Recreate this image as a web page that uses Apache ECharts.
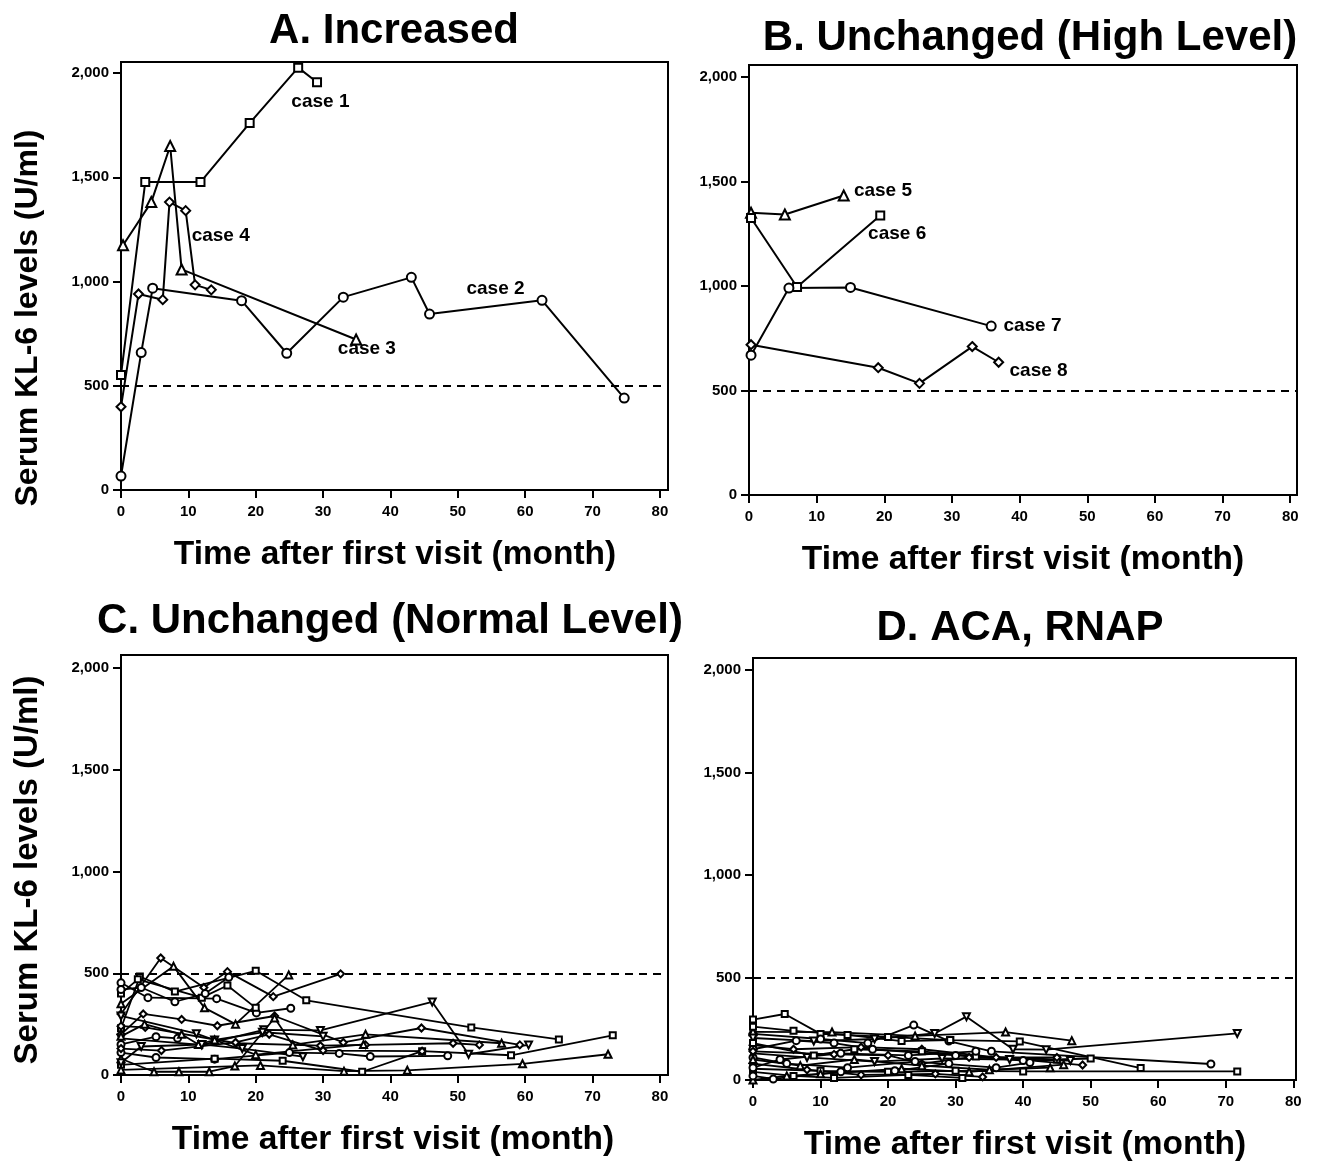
<!DOCTYPE html>
<html>
<head>
<meta charset="utf-8">
<title>Serum KL-6 levels over time</title>
<script src="https://cdn.jsdelivr.net/npm/echarts@6/dist/echarts.min.js"></script>
<style>
  html, body { margin: 0; padding: 0; background: #fff; }
  #chart { width: 1318px; height: 1166px; }
</style>
</head>
<body>
<div id="chart"></div>
<script>
// Serum KL-6 levels, four panels (A-D)

// --- data ---
var xTicks = [0, 10, 20, 30, 40, 50, 60, 70, 80];
var yTicks = [0, 500, 1000, 1500, 2000];
var cutoff = 500;

// A. Increased  [month, U/ml]
var case1 = [[0, 552], [3.6, 1477], [11.8, 1477], [19.1, 1760], [26.3, 2026], [29.1, 1956]];
var case2 = [[0, 67], [3.0, 659], [4.7, 968], [17.9, 908], [24.6, 656], [33.0, 925], [43.1, 1020], [45.8, 844], [62.5, 910], [74.7, 441]];
var case3 = [[0.3, 1174], [4.5, 1381], [7.3, 1650], [9.0, 1058], [34.9, 722]];
var case4 = [[0, 399], [2.6, 940], [6.2, 913], [7.2, 1381], [9.6, 1340], [11.0, 984], [13.4, 960]];

// B. Unchanged (High Level)
var case5 = [[0.3, 1350], [5.3, 1342], [14.0, 1433]];
var case6 = [[0.3, 1325], [7.1, 995], [19.4, 1337]];
var case7 = [[0.3, 669], [5.9, 990], [15.0, 993], [35.8, 808]];
var case8 = [[0.3, 719], [19.1, 609], [25.2, 534], [33.0, 710], [36.9, 635]];

// case label anchors [month, U/ml, text]
var labelsA = [[29.6, 1860, 'case 1'], [55.6, 966, 'case 2'], [36.5, 678, 'case 3'], [14.8, 1221, 'case 4']];
var labelsB = [[19.8, 1455, 'case 5'], [21.9, 1250, 'case 6'], [41.9, 808, 'case 7'], [42.8, 593, 'case 8']];

// C. Unchanged (Normal Level)
var normalCases = [
  [[0, 300], [5.9, 575], [12.3, 430], [15.8, 508], [22.6, 385], [32.6, 497]],
  [[0, 350], [7.8, 534], [12.4, 330], [17, 250], [24.9, 492]],
  [[0, 230], [2.8, 484], [8, 410], [20, 512], [27.5, 367], [52, 234], [65, 175]],
  [[0, 453], [4, 380], [14.2, 375], [20.1, 305], [25.2, 328]],
  [[0, 180], [12, 148], [21.2, 222], [29.6, 219], [46.2, 359], [51.6, 102], [60.5, 148]],
  [[0, 200], [3.3, 300], [9, 273], [14.3, 242], [22.8, 290], [33, 160], [44.6, 231], [59.2, 148]],
  [[0, 80], [4.9, 16], [8.6, 16], [13.1, 16], [16.9, 44], [22.8, 280], [25.5, 148], [36.3, 200], [56.5, 156]],
  [[0, 150], [5.2, 188], [8.4, 180]],
  [[0, 110], [5.2, 86], [13.9, 78], [25, 110], [32.4, 106], [37, 91], [48.5, 94]],
  [[0, 50], [13.9, 80], [24, 70], [35.8, 16], [44.7, 117], [57.9, 97], [73, 195]],
  [[0, 25], [20.7, 47], [33.1, 19], [42.5, 23], [59.6, 55], [72.3, 102]],
  [[0, 240], [3.6, 234], [17.1, 156], [29.6, 144], [36.3, 148], [49.3, 156], [53.2, 148]],
  [[0, 290], [11.2, 203], [13.9, 172], [21, 210], [30, 190]],
  [[0, 400], [2.5, 470], [12, 380], [15.8, 440], [20, 330]],
  [[0, 130], [6, 120], [17, 160], [22, 200], [30, 120], [44.7, 117]],
  [[0, 420], [3, 430], [8, 360], [12.5, 400], [16, 480]],
  [[0, 190], [3.5, 250], [9, 200], [11.5, 150], [13.9, 172], [20, 100], [36, 150]],
  [[0, 60], [3, 140], [12, 150], [18, 130], [27, 90]]
];
var normalMarks = ['diamond', 'triangle', 'square', 'circle', 'down', 'diamond', 'triangle', 'circle', 'circle',
  'square', 'triangle', 'diamond', 'down', 'square', 'diamond', 'circle', 'triangle', 'down'];

// D. ACA, RNAP
var acaCases = [
  [[0, 295], [4.7, 322], [10, 225], [20, 210], [29.2, 195], [39.5, 188], [57.4, 58]],
  [[0, 225], [10, 200], [17, 180], [23.8, 268], [29, 190], [35.3, 140], [67.8, 78]],
  [[0, 235], [11.7, 234], [24, 215], [37.4, 234], [47.2, 192]],
  [[0, 205], [9, 190], [18, 200], [26.9, 227], [31.6, 309], [38.5, 150], [43.4, 148], [71.7, 227]],
  [[0, 170], [6, 150], [16, 160], [25, 150], [36, 110], [48.8, 73]],
  [[0, 55], [10, 45], [20, 40], [30, 45], [40, 42], [71.7, 42]],
  [[0, 150], [6.4, 192], [12, 180], [17.7, 150], [30, 120], [40, 95]],
  [[0, 180], [9, 120], [15, 150], [25, 140], [33, 115], [45, 100], [50, 105]],
  [[0, 0], [5, 20], [10, 30], [22, 55], [32, 40], [46, 75]],
  [[0, 110], [5, 80], [14, 60], [24, 90], [36, 60], [41, 85]],
  [[0, 80], [8, 50], [16, 25], [27, 30], [34, 15]],
  [[0, 130], [8, 110], [18, 90], [28, 105], [38, 100], [47, 95]],
  [[0, 40], [6, 20], [12, 10], [23, 25], [31, 10]],
  [[0, 20], [3, 5], [13, 40], [21, 45], [29, 80]],
  [[0, 140], [12, 125], [20, 120], [25, 80], [32, 110], [45, 110]],
  [[0, 100], [7, 70], [15, 100], [25, 70], [35, 50], [44, 60]],
  [[0, 260], [6, 240], [14, 220], [22, 190], [29.2, 195]],
  [[0, 60], [4, 100], [13, 130], [23, 120], [33, 140]]
];
var acaMarks = ['square', 'circle', 'triangle', 'down', 'diamond', 'square', 'circle', 'square', 'triangle',
  'circle', 'diamond', 'down', 'square', 'circle', 'diamond', 'triangle', 'square', 'circle'];

(function () {
  'use strict';

  var FONT = '"Liberation Sans", Arial, Helvetica, sans-serif';

  var chart = echarts.init(document.getElementById('chart'));

  // panel frames (pixels)
  var grids = [
    { left: 121, top: 62, width: 547, height: 428, xMax: 81.2, yMax: 2053 },
    { left: 749, top: 65, width: 548, height: 430, xMax: 81, yMax: 2057 },
    { left: 121, top: 655, width: 547, height: 420, xMax: 81.2, yMax: 2064 },
    { left: 753, top: 658, width: 543, height: 422, xMax: 80.4, yMax: 2059 }
  ];

  var symbolOf = {
    circle: 'emptyCircle',
    square: 'emptyRect',
    triangle: 'emptyTriangle',
    diamond: 'emptyDiamond',
    down: 'emptyTriangle'
  };

  function caseSeries(idx, data, mark, big) {
    var size = big ? { circle: 9, square: 8, triangle: 10, diamond: 9, down: 10 }
                   : { circle: 7, square: 6, triangle: 7, diamond: 7, down: 7 };
    return {
      type: 'line',
      xAxisIndex: idx,
      yAxisIndex: idx,
      data: data,
      symbol: symbolOf[mark],
      symbolRotate: mark === 'down' ? 180 : 0,
      symbolSize: size[mark],
      showAllSymbol: true,
      clip: false,
      lineStyle: { color: '#000', width: big ? 2 : 1.8 },
      itemStyle: { color: '#000', borderWidth: big ? 1.8 : 1.6 },
      emphasis: { disabled: true },
      z: 3
    };
  }

  function cutoffSeries(idx) {
    return {
      type: 'line',
      xAxisIndex: idx,
      yAxisIndex: idx,
      data: [],
      markLine: {
        silent: true,
        symbol: 'none',
        label: { show: false },
        lineStyle: { color: '#000', type: [8, 6], width: 1.8 },
        data: [{ yAxis: cutoff }]
      }
    };
  }

  function labelSeries(idx, rows) {
    return {
      type: 'scatter',
      xAxisIndex: idx,
      yAxisIndex: idx,
      data: rows,
      symbolSize: 1,
      itemStyle: { color: 'rgba(0,0,0,0)', opacity: 1 },
      label: {
        show: true,
        position: 'inside',
        formatter: function (p) { return p.data[2]; },
        color: '#000',
        fontFamily: FONT,
        fontWeight: 'bold',
        fontSize: 19
      },
      silent: true,
      z: 5
    };
  }

  var xAxes = grids.map(function (g, i) {
    return {
      type: 'value',
      gridIndex: i,
      min: 0,
      max: g.xMax,
      splitLine: { show: false },
      axisLine: { show: true, onZero: false, lineStyle: { color: '#000', width: 2 } },
      axisTick: { show: true, customValues: xTicks, length: 8, lineStyle: { color: '#000', width: 2 } },
      axisLabel: {
        customValues: xTicks,
        margin: 14,
        color: '#000',
        fontFamily: FONT,
        fontWeight: 'bold',
        fontSize: 15
      }
    };
  });

  var yAxes = grids.map(function (g, i) {
    return {
      type: 'value',
      gridIndex: i,
      min: 0,
      max: g.yMax,
      splitLine: { show: false },
      axisLine: { show: true, onZero: false, lineStyle: { color: '#000', width: 2 } },
      axisTick: { show: true, customValues: yTicks, length: 8, lineStyle: { color: '#000', width: 2 } },
      axisLabel: {
        customValues: yTicks,
        margin: 12,
        color: '#000',
        fontFamily: FONT,
        fontWeight: 'bold',
        fontSize: 15,
        formatter: function (v) { return v.toLocaleString('en-US'); }
      }
    };
  });

  var series = [];
  series.push(caseSeries(0, case1, 'square', true));
  series.push(caseSeries(0, case2, 'circle', true));
  series.push(caseSeries(0, case3, 'triangle', true));
  series.push(caseSeries(0, case4, 'diamond', true));
  series.push(caseSeries(1, case5, 'triangle', true));
  series.push(caseSeries(1, case6, 'square', true));
  series.push(caseSeries(1, case7, 'circle', true));
  series.push(caseSeries(1, case8, 'diamond', true));
  normalCases.forEach(function (d, k) {
    series.push(caseSeries(2, d, normalMarks[k], false));
  });
  acaCases.forEach(function (d, k) {
    series.push(caseSeries(3, d, acaMarks[k], false));
  });
  for (var i = 0; i < 4; i++) series.push(cutoffSeries(i));
  series.push(labelSeries(0, labelsA));
  series.push(labelSeries(1, labelsB));

  function text(x, y, str, size, rotate) {
    return {
      type: 'text',
      x: x,
      y: y,
      rotation: rotate || 0,
      style: {
        text: str,
        fill: '#000',
        font: 'bold ' + size + 'px ' + FONT,
        align: 'center',
        verticalAlign: 'middle'
      }
    };
  }

  var yName = 'Serum KL-6 levels (U/ml)';
  var xName = 'Time after first visit (month)';

  var option = {
    animation: false,
    backgroundColor: '#fff',
    grid: grids.map(function (g) {
      return {
        left: g.left, top: g.top, width: g.width, height: g.height,
        show: true, borderColor: '#000', borderWidth: 2, backgroundColor: 'transparent'
      };
    }),
    xAxis: xAxes,
    yAxis: yAxes,
    series: series,
    graphic: [
      text(394, 31, 'A. Increased', 42),
      text(1030, 38, 'B. Unchanged (High Level)', 42),
      text(390, 621, 'C. Unchanged (Normal Level)', 42),
      text(1020, 628, 'D. ACA, RNAP', 42),
      text(395, 555, xName, 33.5),
      text(1023, 560, xName, 33.5),
      text(393, 1140, xName, 33.5),
      text(1025, 1145, xName, 33.5),
      text(28, 318, yName, 32, Math.PI / 2),
      text(28, 870, yName, 33, Math.PI / 2)
    ]
  };

  chart.setOption(option);

  window.addEventListener('resize', function () {
    chart.resize();
  });
})();
</script>
</body>
</html>
